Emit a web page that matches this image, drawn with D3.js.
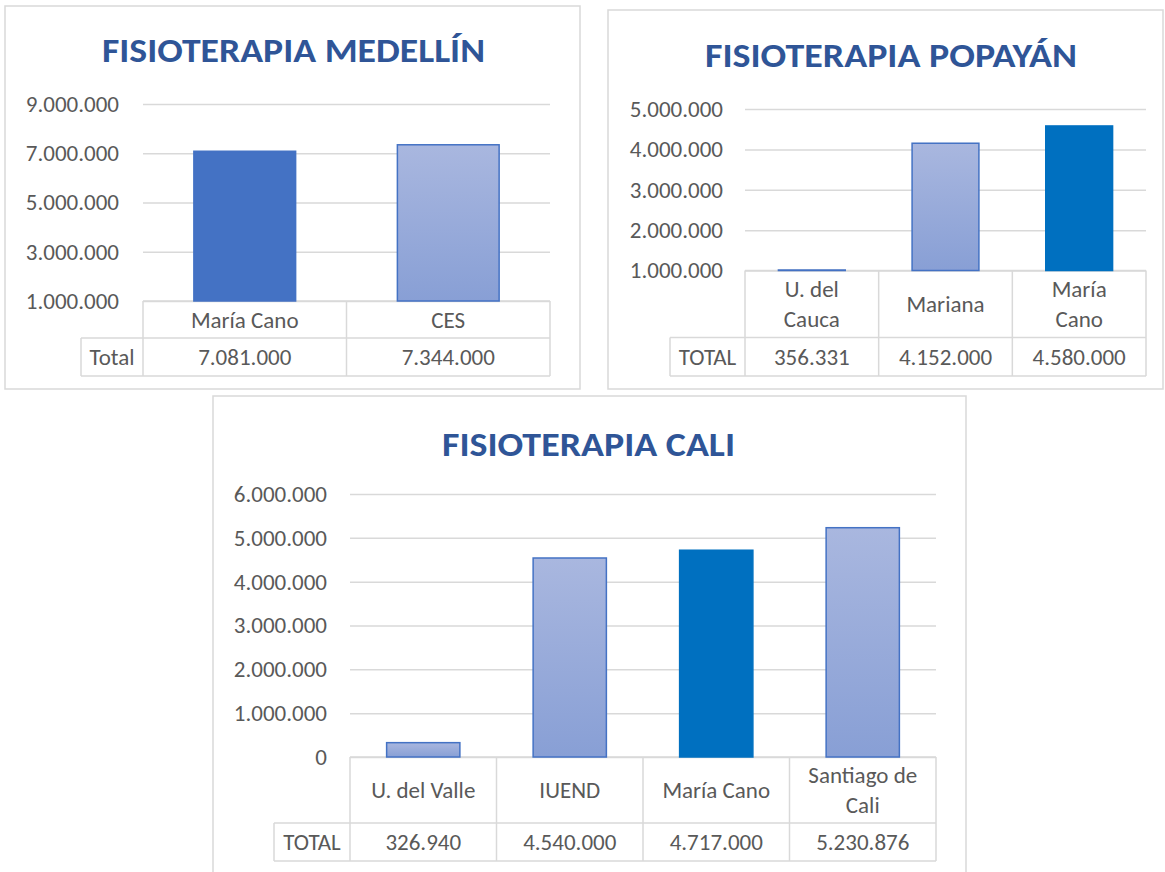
<!DOCTYPE html>
<html>
<head>
<meta charset="utf-8">
<script src="https://cdn.jsdelivr.net/npm/d3@7"></script>
<style>
  html, body { margin: 0; padding: 0; background: #ffffff; }
  svg { display: block; }
</style>
</head>
<body>
<svg id="chart" width="1165" height="872"></svg>
<script>
// ---------------- DATA ----------------
const medTitle = "FISIOTERAPIA MEDELLÍN";
const medCategories = ["María Cano", "CES"];
const medValues = [7081000, 7344000];
const medTicks = [1000000, 3000000, 5000000, 7000000, 9000000];
const medTotalLabel = "Total";
const medHighlight = ["María Cano"];

const popTitle = "FISIOTERAPIA POPAYÁN";
const popCategories = ["U. del\nCauca", "Mariana", "María\nCano"];
const popValues = [356331, 4152000, 4580000];
const popTicks = [1000000, 2000000, 3000000, 4000000, 5000000];
const popTotalLabel = "TOTAL";
const popHighlight = ["María\nCano"];

const caliTitle = "FISIOTERAPIA CALI";
const caliCategories = ["U. del Valle", "IUEND", "María Cano", "Santiago de\nCali"];
const caliValues = [326940, 4540000, 4717000, 5230876];
const caliTicks = [0, 1000000, 2000000, 3000000, 4000000, 5000000, 6000000];
const caliTotalLabel = "TOTAL";
const caliHighlight = ["María Cano"];

// ---------------- STYLE / LAYOUT ----------------
const FONT = "Carlito, Calibri, Lato, 'Open Sans', sans-serif";
const TEXT_COLOR = "#595959";
const TITLE_COLOR = "#2F5597";
const GRID_COLOR = "#D9D9D9";
const BORDER_COLOR = "#D9D9D9";
const BAR_STROKE = "#4472C4";

const locale = d3.formatLocale({ decimal: ",", thousands: ".", grouping: [3], currency: ["$", ""] });
const fmt = locale.format(",d");

const svg = d3.select("#chart");
const defs = svg.append("defs");
const grad = defs.append("linearGradient")
  .attr("id", "barGrad").attr("x1", 0).attr("y1", 0).attr("x2", 0).attr("y2", 1);
grad.append("stop").attr("offset", "0%").attr("stop-color", "#A9B7DF");
grad.append("stop").attr("offset", "100%").attr("stop-color", "#889FD5");

const panels = [
  {
    title: medTitle, categories: medCategories, values: medValues, ticks: medTicks,
    totalLabel: medTotalLabel, highlight: medHighlight, highlightColor: "#4472C4",
    panel: { x: 5, y: 6, w: 575, h: 383 },
    plot: { left: 143, right: 550, top: 104, bottom: 301 },
    domain: [1000000, 9000000],
    catBottom: 338, totalBottom: 376, totalLeft: 81,
    titleX: 293.5, titleBase: 61.5, titleLen: 383, tickPad: 24
  },
  {
    title: popTitle, categories: popCategories, values: popValues, ticks: popTicks,
    totalLabel: popTotalLabel, highlight: popHighlight, highlightColor: "#0070C0",
    panel: { x: 608, y: 10, w: 555, h: 379 },
    plot: { left: 745, right: 1146, top: 109, bottom: 270.5 },
    domain: [1000000, 5000000],
    catBottom: 337.5, totalBottom: 376, totalLeft: 670,
    titleX: 891, titleBase: 66.5, titleLen: 372, tickPad: 22
  },
  {
    title: caliTitle, categories: caliCategories, values: caliValues, ticks: caliTicks,
    totalLabel: caliTotalLabel, highlight: caliHighlight, highlightColor: "#0070C0",
    panel: { x: 213, y: 396, w: 753, h: 500 },
    plot: { left: 350, right: 936, top: 494, bottom: 757 },
    domain: [0, 6000000],
    catBottom: 823, totalBottom: 861, totalLeft: 274,
    titleX: 588.5, titleBase: 456, titleLen: 293, tickPad: 23
  }
];

const FS = 23;
const LINE_H = 30;

function multiline(g, text, cx, cy) {
  const lines = text.split("\n");
  const t = g.append("text")
    .attr("text-anchor", "middle")
    .attr("font-family", FONT).attr("font-size", FS)
    .attr("fill", TEXT_COLOR);
  const startY = cy - (lines.length - 1) * LINE_H / 2 + FS * 0.35;
  lines.forEach((ln, i) => {
    t.append("tspan").attr("x", cx).attr("y", startY + i * LINE_H).text(ln);
  });
}

panels.forEach(p => {
  const g = svg.append("g");
  // panel border
  g.append("rect")
    .attr("x", p.panel.x).attr("y", p.panel.y)
    .attr("width", p.panel.w).attr("height", p.panel.h)
    .attr("fill", "#ffffff").attr("stroke", BORDER_COLOR).attr("stroke-width", 1.5);

  // title
  g.append("text")
    .attr("x", p.titleX).attr("y", p.titleBase)
    .attr("text-anchor", "middle")
    .attr("font-family", FONT).attr("font-weight", "bold").attr("font-size", 34)
    .attr("fill", TITLE_COLOR)
    .attr("textLength", p.titleLen).attr("lengthAdjust", "spacingAndGlyphs")
    .text(p.title);

  const y = d3.scaleLinear().domain(p.domain).range([p.plot.bottom, p.plot.top]).clamp(true);
  const x = d3.scaleBand().domain(p.categories).range([p.plot.left, p.plot.right])
    .paddingInner(0.5).paddingOuter(0.25);
  const col = d3.scaleBand().domain(p.categories).range([p.plot.left, p.plot.right]);

  // gridlines + tick labels
  const axis = d3.axisLeft(y).tickValues(p.ticks).tickFormat(fmt)
    .tickSize(-(p.plot.right - p.plot.left)).tickPadding(p.tickPad);
  const ag = g.append("g").attr("transform", `translate(${p.plot.left},0)`).call(axis);
  ag.select(".domain").remove();
  ag.selectAll(".tick line").attr("stroke", GRID_COLOR).attr("stroke-width", 1.5);
  ag.selectAll(".tick text")
    .attr("font-family", FONT).attr("font-size", FS).attr("fill", TEXT_COLOR);

  // data table
  const tg = g.append("g").attr("stroke", BORDER_COLOR).attr("stroke-width", 1.5);
  tg.append("line").attr("x1", p.plot.left).attr("x2", p.plot.right)
    .attr("y1", p.plot.bottom).attr("y2", p.plot.bottom);
  tg.append("line").attr("x1", p.totalLeft).attr("x2", p.plot.right)
    .attr("y1", p.catBottom).attr("y2", p.catBottom);
  tg.append("line").attr("x1", p.totalLeft).attr("x2", p.plot.right)
    .attr("y1", p.totalBottom).attr("y2", p.totalBottom);
  tg.append("line").attr("x1", p.totalLeft).attr("x2", p.totalLeft)
    .attr("y1", p.catBottom).attr("y2", p.totalBottom);
  const bounds = p.categories.map(c => col(c)).concat([p.plot.right]);
  tg.selectAll(".vl").data(bounds).enter().append("line")
    .attr("x1", d => d).attr("x2", d => d)
    .attr("y1", p.plot.bottom).attr("y2", p.totalBottom);

  // bars (values below the axis minimum collapse to a thin sliver at the base)
  g.selectAll(".bar").data(p.categories.map((c, i) => ({ c, v: p.values[i] })))
    .enter().append("rect")
    .attr("x", d => x(d.c))
    .attr("width", x.bandwidth())
    .attr("y", d => Math.min(y(d.v), p.plot.bottom - 0.5))
    .attr("height", d => Math.max(p.plot.bottom - y(d.v), 0.5))
    .attr("fill", d => p.highlight.includes(d.c) ? p.highlightColor : "url(#barGrad)")
    .attr("stroke", d => p.highlight.includes(d.c) ? p.highlightColor : BAR_STROKE)
    .attr("stroke-width", 1.5);

  const catMid = (p.plot.bottom + p.catBottom) / 2;
  const totMid = (p.catBottom + p.totalBottom) / 2;
  p.categories.forEach((c, i) => {
    const cx = col(c) + col.bandwidth() / 2;
    multiline(g, c, cx, catMid);
    multiline(g, fmt(p.values[i]), cx, totMid);
  });
  multiline(g, p.totalLabel, (p.totalLeft + p.plot.left) / 2, totMid);
});
</script>
</body>
</html>
